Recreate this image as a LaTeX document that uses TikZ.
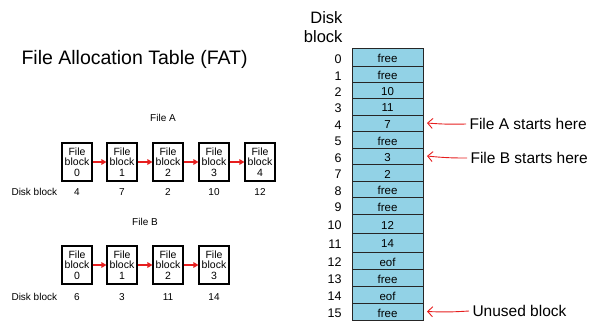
\documentclass[tikz,border=0pt]{standalone}
\usepackage{fontspec}
\setmainfont{Liberation Sans}
\usetikzlibrary{arrows.meta}
\definecolor{cellblue}{RGB}{146,210,230}
\definecolor{arrred}{RGB}{230,30,30}
\tikzset{
  fblock/.style={draw, line width=1.1pt, minimum width=30pt, minimum height=38pt,
    inner sep=0pt, align=center, font=\fontsize{10.5}{10.5}\selectfont},
  chain/.style={draw=arrred, line width=1.4pt, -{Triangle[length=5pt,width=5.5pt]}},
  small/.style={font=\fontsize{10}{10}\selectfont},
  cell/.style={draw=black!85, fill=cellblue, line width=1pt},
  celltxt/.style={font=\fontsize{11.5}{11.5}\selectfont},
  rowlbl/.style={anchor=east, font=\fontsize{12.5}{12.5}\selectfont},
  note/.style={anchor=west, font=\fontsize{15.5}{15.5}\selectfont},
  pointer/.style={draw=arrred, line width=0.9pt, -{Straight Barb[length=5pt,width=10pt]}}
}
\begin{document}
\begin{tikzpicture}[x=1pt, y=-1pt]
\useasboundingbox (0,0) rectangle (591,322);

% title
\node[anchor=west, font=\fontsize{19.5}{20}\selectfont] (title) at (18,59) {File Allocation Table (FAT)};

% File A chain
\node[small] (labA) at (163,118) {File A};
\node[small, anchor=west] (dbA) at (8,192) {Disk block};
\foreach \i/\x/\d in {0/77/4, 1/122/7, 2/168/2, 3/214/10, 4/260/12} {
  \node[fblock] (a\i) at (\x,162) {File\\block\\\i};
  \node[small] (ad\i) at (\x,192) {\d};
}
\foreach \i/\j in {0/1, 1/2, 2/3, 3/4}
  \draw[chain] (a\i.east) -- (a\j.west);

% File B chain
\node[small] (labB) at (145,222) {File B};
\node[small, anchor=west] (dbB) at (8,297) {Disk block};
\foreach \i/\x/\d in {0/77/6, 1/122/3, 2/168/11, 3/214/14} {
  \node[fblock] (b\i) at (\x,265) {File\\block\\\i};
  \node[small] (bd\i) at (\x,297) {\d};
}
\foreach \i/\j in {0/1, 1/2, 2/3}
  \draw[chain] (b\i.east) -- (b\j.west);

% FAT table
\node[anchor=east, align=right, font=\fontsize{16.5}{19}\selectfont] (hdr) at (346,27) {Disk\\block};
\def\xl{352}\def\xr{423}
\foreach \n/\top/\bot/\v in {0/48/66/free, 1/66/82/free, 2/82/98/10, 3/98/115/11,
    4/115/131/7, 5/131/148/free, 6/148/164/3, 7/164/181/2, 8/181/197/free,
    9/197/214/free, 10/214/233/12, 11/233/252/14, 12/252/269/eof,
    13/269/286/free, 14/286/303/eof, 15/303/320/free} {
  \draw[cell] (\xl,\top) rectangle (\xr,\bot);
  \coordinate (c\n) at ({(\xl+\xr)/2},{(\top+\bot)/2});
  \coordinate (e\n) at (\xr,{(\top+\bot)/2});
  \node[celltxt] (t\n) at ([yshift=-1.5pt]c\n) {\v};
  \node[rowlbl] (r\n) at (345,{(\top+\bot)/2+2}) {\n};
}

% annotations
\node[note] (nA) at (466,124) {File A starts here};
\node[note] (nB) at (467,158) {File B starts here};
\node[note] (nU) at (469,311) {Unused block};
\draw[pointer] (nA.west) to[bend left=3] ([xshift=4pt]e4);
\draw[pointer] (nB.west) to[bend left=3] ([xshift=4pt]e6);
\draw[pointer] (nU.west) to[bend left=3] ([xshift=4pt]e15);
\end{tikzpicture}
\end{document}
